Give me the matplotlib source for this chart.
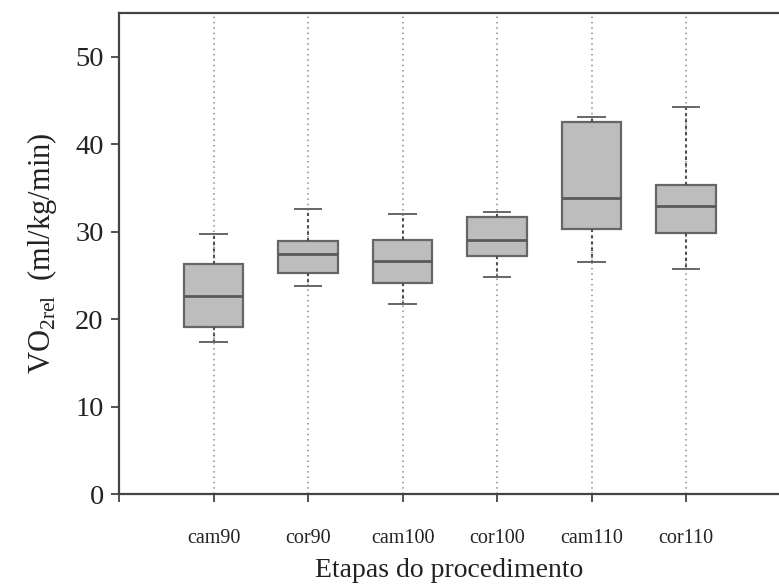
import matplotlib
matplotlib.use("Agg")
import matplotlib.pyplot as plt

categories = ["cam90", "cor90", "cam100", "cor100", "cam110", "cor110"]
whislo = [17.4, 23.8, 21.7, 24.8, 26.5, 25.7]
q1 = [19.1, 25.3, 24.1, 27.2, 30.3, 29.9]
med = [22.6, 27.5, 26.6, 29.0, 33.9, 32.9]
q3 = [26.3, 28.9, 29.0, 31.7, 42.5, 35.3]
whishi = [29.7, 32.6, 32.0, 32.3, 43.1, 44.3]
yticks = [0, 10, 20, 30, 40, 50]

plt.rcParams['font.family'] = ['Liberation Serif', 'DejaVu Serif']
plt.rcParams['mathtext.fontset'] = 'custom'
plt.rcParams['mathtext.rm'] = 'Liberation Serif'

fig = plt.figure(figsize=(7.79, 5.85), dpi=100)
ax = fig.add_axes([119/779, 1-494/585, 1-119/779, (494-13)/585])

positions = list(range(1, len(categories) + 1))
for p in positions:
    ax.axvline(p, color='#8a8a8a', linestyle=(0, (1, 2.5)), linewidth=1.1, zorder=0)

stats = []
for i, c in enumerate(categories):
    stats.append(dict(label=c, whislo=whislo[i], q1=q1[i], med=med[i],
                      q3=q3[i], whishi=whishi[i], fliers=[]))

ax.bxp(stats, positions=positions, widths=0.63, patch_artist=True,
       showfliers=False,
       boxprops=dict(facecolor='#bdbdbd', edgecolor='#666666', linewidth=1.6),
       medianprops=dict(color='#5a5a5a', linewidth=2.0),
       whiskerprops=dict(color='#505050', linewidth=1.5, linestyle=(0, (1.5, 1.5))),
       capprops=dict(color='#666666', linewidth=1.4),
       capwidths=0.28, zorder=2)

ax.set_xlim(0, (779-119)/94.5)
ax.set_ylim(0, 55)
ax.set_yticks(yticks)
ax.set_xticks([0] + positions)
ax.set_xticklabels([''] + categories, fontsize=14.5)
ax.tick_params(axis='y', labelsize=20.5, direction='out', length=6, width=1.2,
               colors='#333333', labelcolor='#222222', pad=5)
ax.tick_params(axis='x', direction='out', length=6, width=1.2,
               colors='#333333', labelcolor='#222222', pad=19)
ax.spines['right'].set_visible(False)
for s in ['left', 'top', 'bottom']:
    ax.spines[s].set_color('#444444')
    ax.spines[s].set_linewidth(1.6)

ax.set_ylabel(r'VO$_{\mathregular{2rel}}$  (ml/kg/min)', fontsize=22, color='#222222', labelpad=12)
ax.set_xlabel('Etapas do procedimento', fontsize=20, color='#222222')
ax.xaxis.set_label_coords(0.5, -(577 - 494) / 481, transform=ax.transAxes)
ax.xaxis.label.set_va('baseline')

fig.savefig('out.png', dpi=100)
